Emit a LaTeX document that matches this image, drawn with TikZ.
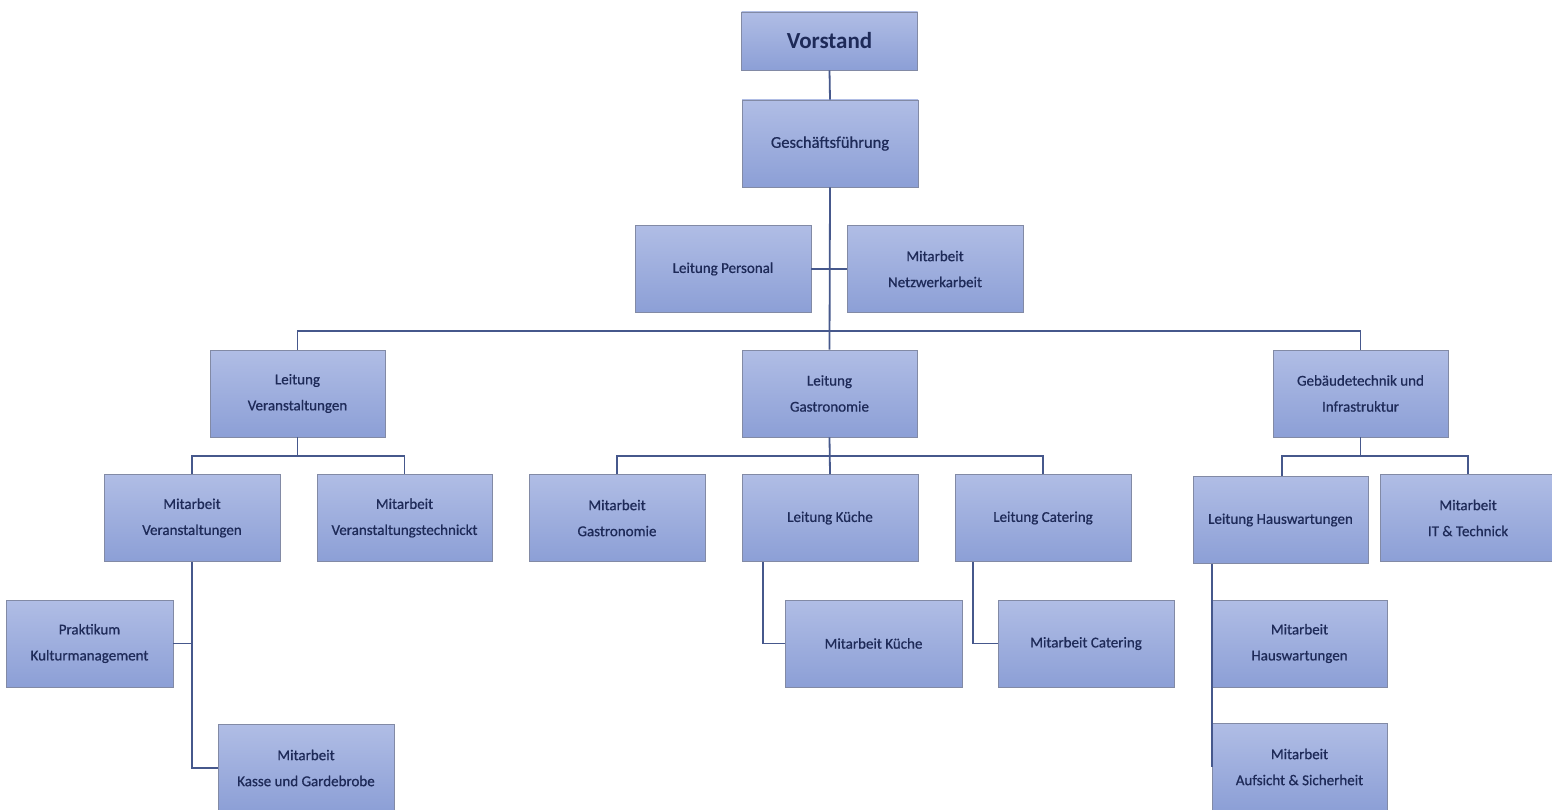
\documentclass[tikz,border=0pt]{standalone}
\usepackage{fontspec}
\setmainfont{Carlito}
\newfontfamily\boxfont[FakeBold=0.7]{Carlito}
\usetikzlibrary{calc}
\definecolor{boxtop}{RGB}{176,189,229}
\definecolor{boxbot}{RGB}{140,159,214}
\definecolor{boxedge}{RGB}{130,138,165}
\definecolor{txt}{RGB}{30,42,88}
\definecolor{linec}{RGB}{70,88,140}
\tikzset{
  orgbox/.style={draw=boxedge, line width=0.8pt, top color=boxtop, bottom color=boxbot,
    shading angle=0, minimum width=176pt, minimum height=87pt, inner sep=0pt,
    align=center, text=txt, font=\boxfont\fontsize{15}{26}\selectfont},
  conn/.style={draw=linec, line width=1.8pt}
}
\begin{document}
\begin{tikzpicture}[x=1pt,y=-1pt]
\useasboundingbox[fill=white] (0,0) rectangle (1552,810);
% level 0-1
\node[orgbox, minimum height=58pt, font=\rmfamily\fontsize{23}{26}\selectfont\bfseries] (vor) at (829.5,41) {Vorstand};
\node[orgbox, font=\boxfont\fontsize{16.5}{26}\selectfont] (gf) at (830,143.5) {Geschäftsführung};
\node[orgbox] (lp) at (723,269) {Leitung Personal};
\node[orgbox] (mn) at (935,269) {Mitarbeit\\Netzwerkarbeit};
% level 2
\node[orgbox, minimum width=175pt] (lv) at (297.5,393.5) {Leitung\\Veranstaltungen};
\node[orgbox, minimum width=175pt] (lg) at (829.5,393.5) {Leitung\\Gastronomie};
\node[orgbox, minimum width=175pt] (gi) at (1360.5,393.5) {Gebäudetechnik und\\Infrastruktur};
% level 3
\node[orgbox] (mv) at (192,518) {Mitarbeit\\Veranstaltungen};
\node[orgbox, minimum width=175pt] (mvt) at (404.5,518) {Mitarbeit\\Veranstaltungstechnickt};
\node[orgbox] (mg) at (617,518) {Mitarbeit\\Gastronomie};
\node[orgbox] (lk) at (830,518) {Leitung Küche};
\node[orgbox] (lc) at (1043,518) {Leitung Catering};
\node[orgbox, minimum width=175pt] (lh) at (1280.5,520) {Leitung Hauswartungen};
\node[orgbox] (mit) at (1468,518) {Mitarbeit\\IT \& Technick};
% level 4
\node[orgbox, minimum width=167pt] (pk) at (89.5,643.5) {Praktikum\\Kulturmanagement};
\node[orgbox] (mk) at (306,768) {Mitarbeit\\Kasse und Gardebrobe};
\node[orgbox, minimum width=177pt] (mku) at (873.5,643.5) {Mitarbeit Küche};
\node[orgbox] (mca) at (1086,643.5) {Mitarbeit Catering};
\node[orgbox, minimum width=175pt] (mha) at (1299.5,643.5) {Mitarbeit\\Hauswartungen};
\node[orgbox, minimum width=175pt] (mas) at (1299.5,767) {Mitarbeit\\Aufsicht \& Sicherheit};
% connector coordinates
\coordinate (bar1) at (829.5,331);
\coordinate (bar2) at (297.5,456);
\coordinate (bar3) at (829.5,456);
\coordinate (bar4) at (1360.5,456);
% connectors
\draw[conn] (vor.south) -- (gf.north);
\draw[conn] (gf.south) -- (lg.north);
\draw[conn] (lp.east) -- (mn.west);
\draw[conn] (lv.north) |- (bar1) -| (gi.north);
\draw[conn] (lv.south) -- (bar2);
\draw[conn] (mv.north) |- (bar2) -| (mvt.north);
\draw[conn] (lg.south) -- (lk.north);
\draw[conn] (mg.north) |- (bar3) -| (lc.north);
\draw[conn] (gi.south) -- (bar4);
\draw[conn] ([xshift=1.5pt]lh.north) |- (bar4) -| (mit.north);
\draw[conn] (mv.south) |- (mk.west);
\draw[conn] (pk.east) -- (pk.east -| mv.south);
\draw[conn] ($(lk.south west)+(21,0)$) |- (mku.west);
\draw[conn] ($(lc.south west)+(18,0)$) |- (mca.west);
\draw[conn] ($(lh.south west)+(19,0)$) |- (mas.west);
\end{tikzpicture}
\end{document}
